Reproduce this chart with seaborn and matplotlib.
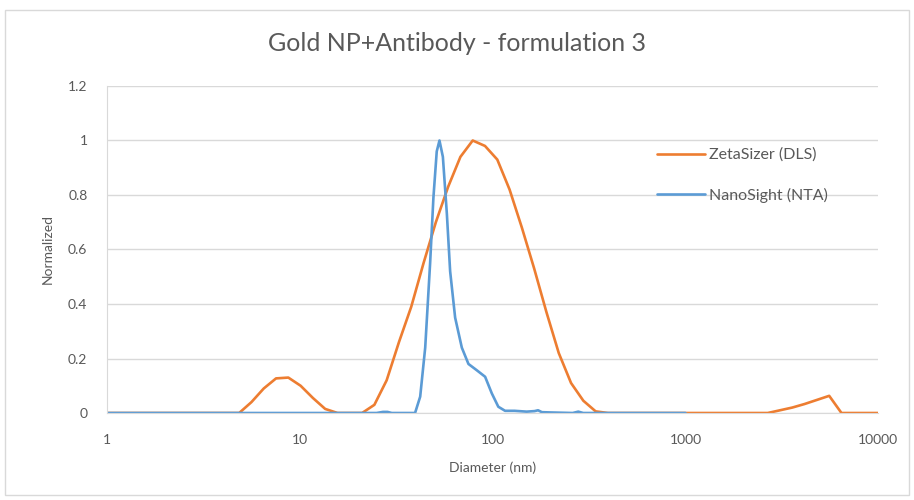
import pandas as pd
import matplotlib.pyplot as plt
import seaborn as sns
from matplotlib.patches import Rectangle
from matplotlib.ticker import FixedLocator, NullLocator, FixedFormatter

# ZetaSizer (DLS) size bins (nm) and normalized intensity
dls_size = [0.9649, 1.117, 1.294, 1.499, 1.736, 2.01, 2.328, 2.696, 3.122, 3.615,
            4.187, 4.849, 5.615, 6.503, 7.531, 8.721, 10.1, 11.7, 13.54, 15.69,
            18.17, 21.04, 24.36, 28.21, 32.67, 37.84, 43.82, 50.75, 58.77, 68.06,
            78.82, 91.28, 105.7, 122.4, 141.8, 164.2, 190.1, 220.2, 255.0, 295.3,
            342.0, 396.1, 458.7, 531.2, 615.1, 712.4, 825.0, 955.4, 1106, 1281,
            1484, 1718, 1990, 2305, 2669, 3091, 3580, 4145, 4801, 5560,
            6439, 7456, 8635, 10000]
dls_val = [0, 0, 0, 0, 0, 0, 0, 0, 0, 0,
           0, 0, 0.04, 0.09, 0.127, 0.13, 0.10, 0.055, 0.015, 0,
           0, 0, 0.03, 0.12, 0.26, 0.39, 0.55, 0.70, 0.83, 0.94,
           1.0, 0.98, 0.93, 0.82, 0.68, 0.53, 0.37, 0.22, 0.11, 0.045,
           0.006, 0, 0, 0, 0, 0, 0, 0, 0, 0,
           0, 0, 0, 0, 0, 0.01, 0.02, 0.033, 0.048, 0.063,
           0, 0, 0, 0]

# NanoSight (NTA) size (nm) and normalized concentration
nta_size = [1, 25, 27, 28.5, 30, 38, 39.6, 42.1, 44.7, 47.4, 49.3, 51.3, 53.0,
            55.2, 57.9, 60.2, 63.9, 69.2, 74.9, 82.7, 91.4, 99.0, 107, 116,
            130, 150, 165, 172, 180, 200, 260, 278, 295, 1000]
nta_val = [0, 0, 0.004, 0.004, 0, 0, 0, 0.06, 0.24, 0.55, 0.79, 0.96, 1.0,
           0.94, 0.73, 0.52, 0.35, 0.24, 0.18, 0.157, 0.133, 0.072, 0.023, 0.008,
           0.008, 0.005, 0.007, 0.01, 0.003, 0.002, 0, 0.005, 0, 0]

labels = ['ZetaSizer (DLS)', 'NanoSight (NTA)']
colors = ['#ED7D31', '#5B9BD5']

df = pd.concat([
    pd.DataFrame({'size': dls_size, 'value': dls_val, 'series': labels[0]}),
    pd.DataFrame({'size': nta_size, 'value': nta_val, 'series': labels[1]}),
])

sns.set_style('white')
plt.rcParams['font.family'] = ['Lato', 'DejaVu Sans']

fig = plt.figure(figsize=(9.14, 5.0), dpi=100)
ax = fig.add_axes([0.117, 0.174, 0.844, 0.654])

sns.lineplot(data=df, x='size', y='value', hue='series', palette=colors,
             hue_order=labels, linewidth=1.9, sort=False, estimator=None, ax=ax)

ax.set_xscale('log')
ax.set_xlim(1, 10000)
ax.set_ylim(0, 1.2)
ax.xaxis.set_major_locator(FixedLocator([1, 10, 100, 1000, 10000]))
ax.xaxis.set_major_formatter(FixedFormatter(['1', '10', '100', '1000', '10000']))
ax.xaxis.set_minor_locator(NullLocator())
ax.set_yticks([0, 0.2, 0.4, 0.6, 0.8, 1, 1.2])
ax.set_yticklabels(['0', '0.2', '0.4', '0.6', '0.8', '1', '1.2'])

ax.grid(axis='y', color='#D9D9D9', linewidth=1)
ax.set_axisbelow(True)
for side in ['top', 'right']:
    ax.spines[side].set_visible(False)
ax.spines['left'].set_color('#D9D9D9')
ax.spines['bottom'].set_color('#D9D9D9')
ax.tick_params(axis='x', length=0, labelsize=10, colors='#595959', pad=15)
ax.tick_params(axis='y', length=0, labelsize=10, colors='#595959', pad=14)

ax.set_xlabel('Diameter (nm)', fontsize=10, color='#595959', labelpad=11)
ax.set_ylabel('Normalized', fontsize=10, color='#595959', labelpad=10)
fig.text(0.5, 0.913, 'Gold NP+Antibody - formulation 3', ha='center', va='center',
         fontsize=18, color='#595959')

ax.legend(loc='upper left', bbox_to_anchor=(0.695, 0.855), frameon=False,
          fontsize=11.5, handlelength=3.0, labelspacing=1.6, handletextpad=0.2,
          labelcolor='#595959')

fig.patches.append(Rectangle((5 / 914, 5 / 500), 904 / 914, 485 / 500,
                             transform=fig.transFigure, fill=False,
                             edgecolor='#D9D9D9', linewidth=1))

plt.savefig('out.png', dpi=100)
